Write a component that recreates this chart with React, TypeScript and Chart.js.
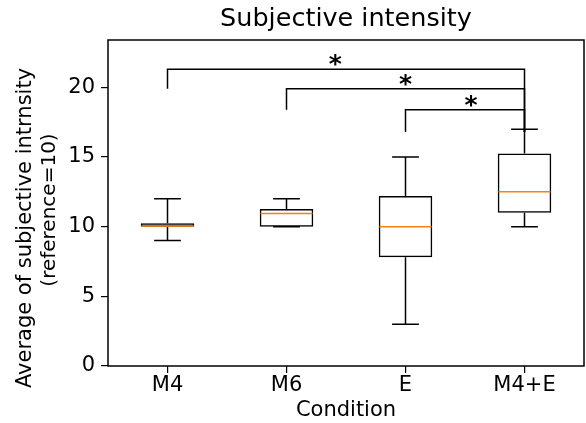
import React, { useEffect, useRef } from "react";
import { Chart, registerables } from "chart.js";

Chart.register(...registerables);

// ---- data ----
const categories = ["M4", "M6", "E", "M4+E"];
const whiskerLow = [9, 10, 3, 10];
const q1 = [10, 10, 7.8, 11];
const median = [10.05, 10.95, 10, 12.5];
const q3 = [10.25, 11.27, 12.2, 15.25];
const whiskerHigh = [12, 12, 15, 17];

// significance brackets (category indices, y values)
const bracketLeft = [0, 1, 2];
const bracketRight = [3, 3, 3];
const bracketTop = [21.3, 19.9, 18.4];
const bracketLeftEnd = [19.9, 18.4, 16.8];
const bracketRightEnd = [16.8, 16.8, 16.8];
const starX = [1.41, 2.0, 2.55];
const starLabels = ["*", "*", "*"];

const yMin = 0;
const yMax = 23.4;
const yStep = 5;

const titleText = "Subjective intensity";
const xTitle = "Condition";
const yTitleLines = ["Average of subjective intrnsity", "(reference=10)"];

const FONT = "'DejaVu Sans', sans-serif";
const LINE = "#000000";
const MEDIAN = "#ff7f0e";

const boxExtras = {
  id: "boxExtras",
  afterDatasetsDraw(chart: any) {
    const { ctx, scales } = chart;
    const xs = scales.x;
    const ys = scales.y;
    const meta = chart.getDatasetMeta(0);
    ctx.save();
    ctx.lineWidth = 1.5;
    ctx.lineCap = "butt";
    for (let i = 0; i < categories.length; i++) {
      const x = xs.getPixelForValue(i);
      const bw = meta.data[i].width;
      const half = bw / 2;
      const capHalf = bw / 4;
      const yq1 = ys.getPixelForValue(q1[i]);
      const yq3 = ys.getPixelForValue(q3[i]);
      const ylo = ys.getPixelForValue(whiskerLow[i]);
      const yhi = ys.getPixelForValue(whiskerHigh[i]);
      const ymed = ys.getPixelForValue(median[i]);
      ctx.strokeStyle = LINE;
      ctx.beginPath();
      ctx.moveTo(x, yq3);
      ctx.lineTo(x, yhi);
      ctx.moveTo(x - capHalf, yhi);
      ctx.lineTo(x + capHalf, yhi);
      ctx.moveTo(x, yq1);
      ctx.lineTo(x, ylo);
      ctx.moveTo(x - capHalf, ylo);
      ctx.lineTo(x + capHalf, ylo);
      ctx.stroke();
      ctx.strokeStyle = MEDIAN;
      ctx.beginPath();
      ctx.moveTo(x - half + 0.75, ymed);
      ctx.lineTo(x + half - 0.75, ymed);
      ctx.stroke();
    }
    // brackets
    ctx.strokeStyle = LINE;
    ctx.lineWidth = 1.5;
    for (let b = 0; b < bracketTop.length; b++) {
      const xl = xs.getPixelForValue(bracketLeft[b]);
      const xr = xs.getPixelForValue(bracketRight[b]);
      const yt = ys.getPixelForValue(bracketTop[b]);
      const yl = ys.getPixelForValue(bracketLeftEnd[b]);
      const yr = ys.getPixelForValue(bracketRightEnd[b]);
      ctx.beginPath();
      ctx.moveTo(xl, yl);
      ctx.lineTo(xl, yt);
      ctx.lineTo(xr, yt);
      ctx.lineTo(xr, yr);
      ctx.stroke();
      ctx.fillStyle = LINE;
      ctx.font = `bold 25px ${FONT}`;
      ctx.textAlign = "center";
      ctx.textBaseline = "alphabetic";
      ctx.fillText(starLabels[b], xs.getPixelForValue(starX[b]), yt + 3);
    }
    ctx.restore();
  },
  afterDraw(chart: any) {
    const { ctx, chartArea } = chart;
    ctx.save();
    ctx.strokeStyle = LINE;
    ctx.lineWidth = 1.5;
    ctx.strokeRect(chartArea.left, chartArea.top, chartArea.right - chartArea.left, chartArea.bottom - chartArea.top);
    // y axis title (two lines, rotated)
    ctx.fillStyle = LINE;
    ctx.textAlign = "center";
    ctx.textBaseline = "middle";
    const pos = [
      { x: 26, y: 228, size: 21 },
      { x: 50, y: 210, size: 20 },
    ];
    yTitleLines.forEach((line, k) => {
      ctx.save();
      ctx.font = `${pos[k].size}px ${FONT}`;
      ctx.translate(pos[k].x, pos[k].y);
      ctx.rotate(-Math.PI / 2);
      ctx.fillText(line, 0, 0);
      ctx.restore();
    });
    ctx.restore();
  },
};

export default function App() {
  const ref = useRef<HTMLCanvasElement | null>(null);
  useEffect(() => {
    document.body.style.margin = "0";
    if (!ref.current) return;
    const chart = new Chart(ref.current, {
      type: "bar",
      data: {
        labels: categories,
        datasets: [
          {
            data: categories.map((_, i) => [q1[i], q3[i]]) as any,
            backgroundColor: "rgba(0,0,0,0)",
            borderColor: LINE,
            borderWidth: 1.5,
            borderSkipped: false,
            categoryPercentage: 1,
            barPercentage: 0.45,
          },
        ],
      },
      options: {
        responsive: false,
        animation: false,
        layout: { padding: { left: 0, right: 2, top: 0, bottom: 0 } },
        plugins: {
          legend: { display: false },
          tooltip: { enabled: false },
          title: {
            display: true,
            fullSize: false,
            text: titleText,
            color: LINE,
            font: { family: FONT, size: 25.5, weight: "normal" },
            padding: { top: 4, bottom: 5.4 },
          },
        },
        scales: {
          x: {
            type: "category",
            offset: true,
            grid: {
              display: true,
              drawOnChartArea: false,
              drawTicks: true,
              tickLength: 7,
              offset: false,
              color: LINE,
              lineWidth: 1.2,
            },
            border: { display: false },
            ticks: { color: LINE, font: { family: FONT, size: 21 }, padding: 0 },
            title: {
              display: true,
              text: xTitle,
              color: LINE,
              font: { family: FONT, size: 21 },
              padding: { top: 0, bottom: 0 },
            },
            afterFit(scale: any) {
              scale.height = 57;
            },
          },
          y: {
            type: "linear",
            min: yMin,
            max: yMax,
            grid: {
              display: true,
              drawOnChartArea: false,
              drawTicks: true,
              tickLength: 7,
              color: LINE,
              lineWidth: 1.2,
            },
            border: { display: false },
            ticks: {
              stepSize: yStep,
              includeBounds: false,
              color: LINE,
              font: { family: FONT, size: 21 },
              padding: 6,
            },
            afterFit(scale: any) {
              scale.width = 108;
            },
          },
        },
      },
      plugins: [boxExtras],
    });
    return () => chart.destroy();
  }, []);
  return <canvas ref={ref} width={586} height={423} />;
}
